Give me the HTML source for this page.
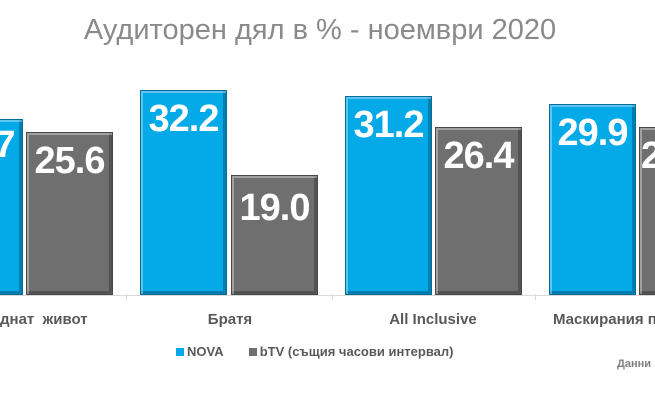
<!DOCTYPE html>
<html><head><meta charset="utf-8"><style>
body{margin:0;background:#fff;font-family:"Liberation Sans","DejaVu Sans",sans-serif}
#w{position:relative;width:655px;height:402px;overflow:hidden}
.b{position:absolute;box-sizing:border-box;border:1px solid rgba(0,0,0,.35);box-shadow:inset 2px 2px 0 rgba(255,255,255,.35),inset -3px -3px 0 rgba(0,0,0,.25)}
.n{background:#04a9e8}.g{background:#6f6f6f}
.v{position:absolute;color:#fff;font-weight:bold;font-size:38px;width:87px;text-align:center;letter-spacing:-1px}
.c{position:absolute;top:311px;font-size:15px;font-weight:bold;color:#595959;text-align:center;white-space:nowrap}
.t{position:absolute;top:294px;width:1px;height:6px;background:#d9d9d9}
</style></head><body><div id="w">
<div style="position:absolute;top:14px;left:0;width:640px;text-align:center;font-size:29px;color:#8a8a8a">Аудиторен дял в % - ноември 2020</div>
<div style="position:absolute;left:0;top:295px;width:655px;height:1px;background:#d9d9d9"></div>
<div class="t" style="left:126px"></div><div class="t" style="left:332px"></div><div class="t" style="left:535px"></div>
<div class="b n" style="left:-64px;top:119px;width:87px;height:176px"></div>
<div class="v" style="left:-64px;top:124px">27.7</div>
<div class="b g" style="left:26px;top:132px;width:87px;height:163px"></div>
<div class="v" style="left:26px;top:140px">25.6</div>
<div class="b n" style="left:140px;top:90px;width:87px;height:205px"></div>
<div class="v" style="left:140px;top:98px">32.2</div>
<div class="b g" style="left:231px;top:175px;width:87px;height:120px"></div>
<div class="v" style="left:231px;top:187px">19.0</div>
<div class="b n" style="left:345px;top:96px;width:87px;height:199px"></div>
<div class="v" style="left:345px;top:104px">31.2</div>
<div class="b g" style="left:435px;top:127px;width:87px;height:168px"></div>
<div class="v" style="left:435px;top:135px">26.4</div>
<div class="b n" style="left:549px;top:104px;width:87px;height:191px"></div>
<div class="v" style="left:549px;top:112px">29.9</div>
<div class="b g" style="left:639px;top:127px;width:87px;height:168px"></div>
<div class="v" style="left:641px;top:135px;text-align:left">26.4</div>
<div class="c" style="left:0;text-align:left">днат&nbsp;&nbsp;живот</div>
<div class="c" style="left:180px;width:100px">Братя</div>
<div class="c" style="left:363px;width:140px">All Inclusive</div>
<div class="c" style="left:553px;text-align:left">Маскирания певец</div>
<div style="position:absolute;top:344px;left:176px;font-size:13px;font-weight:bold;color:#595959;white-space:nowrap">
<span style="display:inline-block;width:8px;height:8px;background:#04a9e8;margin-right:3px"></span>NOVA
<span style="display:inline-block;width:8px;height:8px;background:#6f6f6f;margin:0 3px 0 22px"></span>bTV (същия часови интервал)</div>
<div style="position:absolute;top:358px;left:617px;font-size:11px;font-weight:bold;color:#7f7f7f;white-space:nowrap">Данни</div>
</div></body></html>
